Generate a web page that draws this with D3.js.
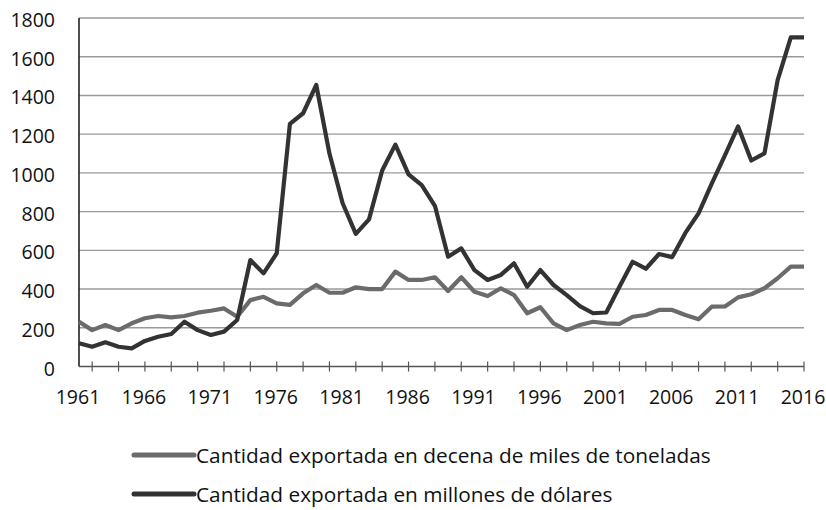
<!DOCTYPE html>
<html>
<head>
<meta charset="utf-8">
<title>exportaciones</title>
<script src="https://d3js.org/d3.v7.min.js"></script>
<style>
  body { margin: 0; background: #fff; }
  svg { display: block; }
  .grid line { stroke: #9a9a9a; stroke-width: 1.4; }
  .lbl { font-family: "Open Sans", sans-serif; font-size: 19.5px; fill: #111; }
  .leg { font-family: "Open Sans", sans-serif; font-size: 20.8px; fill: #111; }
</style>
</head>
<body>
<svg id="main" width="826" height="510"></svg>
<script>
const years = d3.range(1961, 2017);
// decena de miles de toneladas
const toneladas = [231, 188, 214, 188, 223, 249, 261, 254, 261, 278, 288, 300, 257, 343, 360, 326,
  318, 378, 421, 381, 381, 409, 400, 400, 490, 447, 447, 461, 390, 461, 386, 364, 404, 369, 275, 306,
  223, 188, 214, 231, 223, 220, 257, 266, 292, 292, 266, 244, 309, 310, 357, 373, 404, 456, 516, 516];
// millones de dolares
const dolares = [120, 102, 125, 102, 94, 132, 154, 168, 231, 188, 163, 180, 240, 550, 481, 585,
  1253, 1308, 1454, 1100, 843, 685, 760, 1012, 1146, 992, 937, 830, 567, 610, 498, 447, 473, 533, 412, 498,
  421, 369, 312, 275, 279, 412, 541, 505, 581, 565, 690, 791, 945, 1090, 1240, 1064, 1101, 1479, 1700, 1700];
const yTicks = [0, 200, 400, 600, 800, 1000, 1200, 1400, 1600, 1800];
const xLabels = [1961, 1966, 1971, 1976, 1981, 1986, 1991, 1996, 2001, 2006, 2011, 2016];
const series = [
  { name: "Cantidad exportada en decena de miles de toneladas", values: toneladas, color: "#6b6b6b" },
  { name: "Cantidad exportada en millones de dólares", values: dolares, color: "#333333" }
];

const svg = d3.select('svg#main');
const plotLeft = 79, plotRight = 804, plotTop = 18, plotBottom = 366.5;

let x = d3.scaleLinear().domain([1961, 2016]).range([plotLeft, plotRight]);
let y = d3.scaleLinear().domain([0, 1800]).range([plotBottom, plotTop]);

// grid lines
svg.append('g').attr('class', 'grid')
  .selectAll('line')
  .data(yTicks.filter(d => d > 0))
  .join('line')
    .attr('x1', plotLeft).attr('x2', plotRight)
    .attr('y1', d => y(d)).attr('y2', d => y(d));

// y labels
svg.append('g')
  .selectAll('text')
  .data(yTicks)
  .join('text')
    .attr('class', 'lbl')
    .attr('x', 55)
    .attr('y', d => y(d) + 9)
    .attr('text-anchor', 'end')
    .text(d => d);

// axes
svg.append('line').attr('x1', plotLeft).attr('x2', plotLeft).attr('y1', plotTop).attr('y2', plotBottom)
  .attr('stroke', '#222').attr('stroke-width', 1.6);
svg.append('line').attr('x1', plotLeft).attr('x2', plotRight).attr('y1', plotBottom).attr('y2', plotBottom)
  .attr('stroke', '#555').attr('stroke-width', 1.4);

// tick marks every two years
svg.append('g')
  .selectAll('line')
  .data(years.filter(d => (d - 1961) % 2 === 1))
  .join('line')
    .attr('x1', d => x(d)).attr('x2', d => x(d))
    .attr('y1', plotBottom - 5).attr('y2', plotBottom + 5)
    .attr('stroke', '#555').attr('stroke-width', 1.2);

// x labels
svg.append('g')
  .selectAll('text')
  .data(xLabels)
  .join('text')
    .attr('class', 'lbl')
    .attr('x', d => x(d) - 1)
    .attr('y', 404)
    .attr('text-anchor', 'middle')
    .text(d => d);

// lines
let line = d3.line()
  .x((d, i) => x(years[i]))
  .y(d => y(d));

svg.append('g')
  .selectAll('path')
  .data(series)
  .join('path')
    .attr('d', d => line(d.values))
    .attr('fill', 'none')
    .attr('stroke', d => d.color)
    .attr('stroke-width', 4.2)
    .attr('stroke-linejoin', 'round');

// legend
let leg = svg.append('g')
  .selectAll('g')
  .data(series)
  .join('g')
    .attr('transform', (d, i) => 'translate(0,' + (455 + i * 39) + ')');
leg.append('line')
  .attr('x1', 134).attr('x2', 194)
  .attr('stroke', d => d.color).attr('stroke-width', 5).attr('stroke-linecap', 'round');
leg.append('text')
  .attr('class', 'leg')
  .attr('x', 196).attr('y', 8)
  .text(d => d.name);
</script>
</body>
</html>
